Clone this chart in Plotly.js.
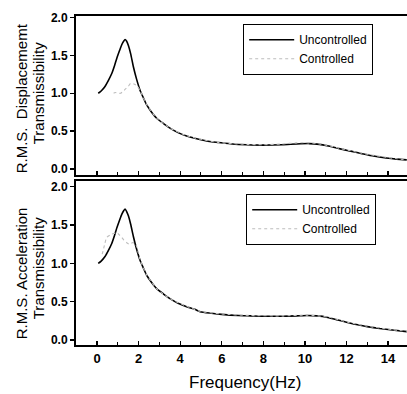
<!DOCTYPE html>
<html>
<head>
<meta charset="utf-8">
<script src="https://cdn.plot.ly/plotly-3.0.1.min.js"></script>
<style>html,body{margin:0;padding:0;background:#fff;}#chart{width:407px;height:394px;}</style>
</head>
<body>
<div id="chart"></div>
<script>
// Top panel: R.M.S. displacement transmissibility
const dispFreqUnc = [0.06, 0.2, 0.385, 0.55, 0.71, 0.85, 0.95, 1.08, 1.19, 1.29, 1.35, 1.42, 1.51, 1.62, 1.75, 1.9, 2.07, 2.23, 2.39, 2.6, 2.87, 3.2, 3.51, 3.9, 4.31, 4.7, 5.11, 5.5, 5.83, 6.5, 7.2, 8.0, 8.9, 9.6, 10.2, 10.7, 11.2, 11.7, 12.2, 12.7, 13.3, 13.9, 14.4, 14.9];
const dispUnc = [1.0, 1.03, 1.09, 1.17, 1.26, 1.37, 1.46, 1.56, 1.64, 1.69, 1.71, 1.69, 1.63, 1.52, 1.35, 1.19, 1.04, 0.94, 0.845, 0.76, 0.67, 0.60, 0.54, 0.48, 0.435, 0.405, 0.38, 0.36, 0.35, 0.33, 0.32, 0.315, 0.32, 0.33, 0.335, 0.325, 0.3, 0.265, 0.235, 0.205, 0.17, 0.145, 0.13, 0.12];
const dispFreqCtl = [0.8, 0.87, 1.0, 1.14, 1.27, 1.39, 1.5, 1.62, 1.8, 1.95, 2.1, 2.39, 2.87, 3.51, 4.31, 5.11, 5.83, 6.5, 7.2, 8.0, 8.9, 9.6, 10.2, 10.7, 11.2, 11.7, 12.2, 12.7, 13.3, 13.9, 14.4, 14.9];
const dispCtl = [1.0, 1.01, 1.0, 1.0, 1.03, 1.06, 1.09, 1.13, 1.12, 1.09, 1.02, 0.85, 0.67, 0.54, 0.44, 0.385, 0.35, 0.335, 0.325, 0.32, 0.33, 0.345, 0.345, 0.33, 0.305, 0.27, 0.24, 0.21, 0.18, 0.155, 0.135, 0.12];

// Bottom panel: R.M.S. acceleration transmissibility
const accFreqUnc = [0.06, 0.2, 0.385, 0.55, 0.71, 0.85, 0.95, 1.08, 1.19, 1.29, 1.35, 1.42, 1.51, 1.62, 1.75, 1.9, 2.07, 2.23, 2.39, 2.6, 2.87, 3.2, 3.51, 3.9, 4.31, 4.7, 4.96, 5.5, 6.0, 6.8, 7.4, 8.0, 8.9, 9.6, 10.1, 10.6, 11.1, 11.6, 12.1, 12.6, 13.0, 13.6, 14.2, 14.9];
const accUnc = [1.0, 1.03, 1.09, 1.17, 1.26, 1.37, 1.46, 1.56, 1.64, 1.69, 1.71, 1.68, 1.62, 1.51, 1.35, 1.19, 1.04, 0.94, 0.845, 0.76, 0.67, 0.60, 0.54, 0.48, 0.435, 0.40, 0.37, 0.35, 0.335, 0.32, 0.315, 0.31, 0.31, 0.315, 0.32, 0.315, 0.295, 0.26, 0.225, 0.195, 0.175, 0.15, 0.13, 0.11];
const accFreqCtl = [0.25, 0.29, 0.38, 0.47, 0.7, 0.95, 1.08, 1.19, 1.3, 1.43, 1.56, 1.7, 1.85, 2.07, 2.39, 2.87, 3.51, 4.31, 4.96, 6.0, 7.4, 8.9, 10.1, 11.1, 12.1, 13.0, 14.2, 14.9];
const accCtl = [1.12, 1.16, 1.26, 1.34, 1.38, 1.40, 1.37, 1.34, 1.30, 1.27, 1.25, 1.27, 1.26, 1.05, 0.85, 0.67, 0.54, 0.44, 0.375, 0.34, 0.32, 0.315, 0.325, 0.3, 0.23, 0.18, 0.135, 0.115];

const seriesNames = ["Uncontrolled", "Controlled"];
const yTickVals = [0.0, 0.5, 1.0, 1.5, 2.0];
const yTickText = ["0.0", "0.5", "1.0", "1.5", "2.0"];
const xTickVals = [0, 2, 4, 6, 8, 10, 12, 14];
const xTickText = ["0", "2", "4", "6", "8", "10", "12", "14"];

const FONT = "Liberation Sans, Arial, Helvetica, sans-serif";
const uncLine = {color: "#000", width: 1.6, shape: "spline", smoothing: 0.6};
const ctlLine = {color: "#bdbdbd", width: 1.1, dash: "dot", shape: "spline", smoothing: 0.6};

const traces = [
  {x: dispFreqUnc, y: dispUnc, name: seriesNames[0], mode: "lines", line: uncLine, xaxis: "x", yaxis: "y", legend: "legend"},
  {x: dispFreqCtl, y: dispCtl, name: seriesNames[1], mode: "lines", line: ctlLine, xaxis: "x", yaxis: "y", legend: "legend"},
  {x: accFreqUnc, y: accUnc, name: seriesNames[0], mode: "lines", line: uncLine, xaxis: "x2", yaxis: "y2", legend: "legend2"},
  {x: accFreqCtl, y: accCtl, name: seriesNames[1], mode: "lines", line: ctlLine, xaxis: "x2", yaxis: "y2", legend: "legend2"}
];

const xCommon = {
  range: [-1.01, 14.91], showline: true, linecolor: "#000", linewidth: 2, mirror: true,
  ticks: "inside", ticklen: 4, tickwidth: 1.2, tickcolor: "#000",
  tickvals: xTickVals, ticktext: xTickText,
  minor: {ticks: "inside", ticklen: 3, tickwidth: 1, tickcolor: "#000", dtick: 1, tick0: 0},
  showgrid: false, zeroline: false, fixedrange: true,
  tickfont: {family: FONT, size: 13, color: "#000", weight: "bold"}
};
const yCommon = {
  showline: true, linecolor: "#000", linewidth: 2, mirror: false,
  ticks: "outside", ticklen: 4, tickwidth: 1.2, tickcolor: "#000",
  tickvals: yTickVals, ticktext: yTickText,
  showgrid: false, zeroline: false, fixedrange: true,
  tickfont: {family: FONT, size: 12, color: "#000", weight: "bold"}
};

const legendCommon = {
  bgcolor: "#fff", bordercolor: "#000", borderwidth: 1.2,
  font: {family: FONT, size: 12, color: "#000"},
  xref: "paper", yref: "paper", xanchor: "left", yanchor: "top",
  itemwidth: 45, tracegroupgap: 0
};

const titleFont = {family: FONT, size: 15, color: "#000"};

const layout = {
  width: 407, height: 394,
  margin: {l: 76, r: 0, t: 16, b: 49},
  paper_bgcolor: "#fff", plot_bgcolor: "#fff",
  showlegend: true,
  xaxis: Object.assign({}, xCommon, {anchor: "y", domain: [0, 1], showticklabels: false}),
  yaxis: Object.assign({}, yCommon, {domain: [0.5167, 1], range: [-0.08, 2.02]}),
  xaxis2: Object.assign({}, xCommon, {anchor: "y2", domain: [0, 1], showticklabels: true}),
  yaxis2: Object.assign({}, yCommon, {domain: [0, 0.4985], range: [-0.065, 2.075]}),
  legend: Object.assign({}, legendCommon, {x: 0.5045, y: 0.9757}),
  legend2: Object.assign({}, legendCommon, {x: 0.5136, y: 0.459}),
  annotations: [
    {text: "R.M.S.  Displacememt", xref: "paper", yref: "paper", x: -0.1638, y: 0.749, textangle: -90, showarrow: false, xanchor: "center", yanchor: "middle", font: titleFont},
    {text: "Transmissibility", xref: "paper", yref: "paper", x: -0.1124, y: 0.7644, textangle: -90, showarrow: false, xanchor: "center", yanchor: "middle", font: titleFont},
    {text: "R.M.S. Acceleration", xref: "paper", yref: "paper", x: -0.1638, y: 0.2173, textangle: -90, showarrow: false, xanchor: "center", yanchor: "middle", font: titleFont},
    {text: "Transmissibility", xref: "paper", yref: "paper", x: -0.1124, y: 0.2325, textangle: -90, showarrow: false, xanchor: "center", yanchor: "middle", font: titleFont},
    {text: "Frequency(Hz)", xref: "paper", yref: "paper", x: 0.512, y: -0.1125, showarrow: false, xanchor: "center", yanchor: "middle", font: {family: FONT, size: 17, color: "#000"}}
  ]
};

Plotly.newPlot("chart", traces, layout, {staticPlot: true, displayModeBar: false});
</script>
</body>
</html>
